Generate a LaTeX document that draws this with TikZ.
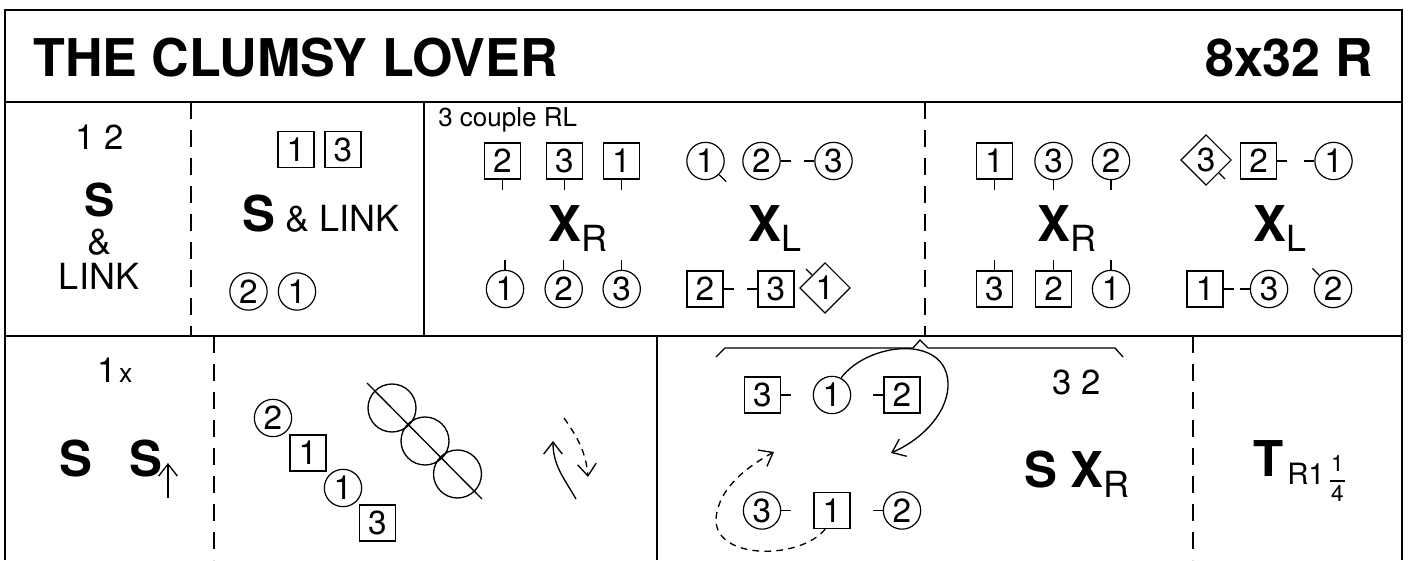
\documentclass[tikz,border=0pt]{standalone}
\usepackage{fontspec}
\setmainfont{TeX Gyre Heros}
\usetikzlibrary{shapes.geometric, arrows.meta}
\newcommand{\ttlf}{\fontsize{39}{41}\selectfont\bfseries}
\newcommand{\bigf}{\fontsize{37}{39}\selectfont\bfseries}
\newcommand{\bigSf}{\fontsize{34}{36}\selectfont\bfseries}
\newcommand{\txtf}{\fontsize{27}{29}\selectfont}
\newcommand{\numf}{\fontsize{26}{28}\selectfont}
\newcommand{\dnumf}{\fontsize{25}{27}\selectfont}
\newcommand{\smallf}{\fontsize{19.5}{21}\selectfont}
\newcommand{\subf}{\fontsize{27}{29}\selectfont\mdseries}
\newcommand{\tsubf}{\fontsize{22}{24}\selectfont}
\newcommand{\fracf}{\fontsize{17}{19}\selectfont}
\tikzset{
    frame/.style={line width=1.6pt},
    sep/.style={line width=1.2pt},
    dsep/.style={line width=1.2pt, dash pattern=on 13pt off 8pt},
    txt/.style={inner sep=0pt},
    man/.style={draw, rectangle, line width=0.9pt, minimum size=27pt, inner sep=0pt, font=\dnumf},
    lady/.style={draw, circle, line width=0.9pt, minimum size=28pt, inner sep=0pt, font=\dnumf},
    dia/.style={draw, diamond, line width=0.9pt, minimum width=38pt, minimum height=38pt, inner sep=0pt, font=\dnumf},
    ring/.style={draw, circle, line width=1pt, minimum size=36pt, inner sep=0pt},
    tail/.style={line width=0.9pt},
    arr/.style={-{Straight Barb[length=9pt, width=14pt]}, line width=1pt},
    darr/.style={arr, dash pattern=on 5pt off 4pt}
}
\begin{document}
\begin{tikzpicture}[x=0.75pt, y=0.75pt]
\useasboundingbox (0,0) rectangle (1412,560);
% frame
\draw[frame] (5,0) -- (5,550) -- (1402,550) -- (1402,0);
\draw[frame] (5,458) -- (1402,458);
\draw[frame] (5,224) -- (1402,224);
\draw[sep] (424,458) -- (424,224);
\draw[sep] (657,224) -- (657,0);
\draw[dsep] (191,458) -- (191,224);
\draw[dsep] (925,458) -- (925,224);
\draw[dsep] (214,224) -- (214,0);
\draw[dsep] (1193,224) -- (1193,0);

% title
\node[txt, anchor=base west, font=\ttlf] (title) at (33,483) {THE CLUMSY LOVER};
\node[txt, anchor=base east, font=\ttlf] (form) at (1373,483) {8x32 R};

% bars 1-8
\node[txt, anchor=base, font=\numf] (cpl12) at (100,410) {1 2};
\node[txt, anchor=base, font=\bigSf] (set1) at (100,343) {S};
\node[txt, anchor=base, font=\txtf] (amp1) at (100,305) {\&};
\node[txt, anchor=base, font=\txtf] (link1) at (99,270) {LINK};

\node[man] (m1) at (296,410.5) {1};
\node[man] (m3) at (343,410.5) {3};
\node[txt, anchor=base west, font=\txtf] (setlink) at (242,328) {{\bigf S} \& LINK};
\node[lady] (l2) at (248.5,268.5) {2};
\node[lady] (l1) at (297,268.5) {1};

% bars 9-16
\node[txt, anchor=base west, font=\smallf] (note) at (438,433) {3 couple RL};
\node[man] (a2) at (502.5,399) {2};
\node[man] (a3) at (564.5,399) {3};
\node[man] (a1) at (621.5,399) {1};
\node[lady] (b1) at (705.5,399) {1};
\node[lady] (b2) at (761.5,399) {2};
\node[lady] (b3) at (833.5,399) {3};
\draw[tail] (a2.south) -- ++(0,-10);
\draw[tail] (a3.south) -- ++(0,-10);
\draw[tail] (a1.south) -- ++(0,-10);
\draw[tail] (b1.south east) -- ++(7,-7);
\draw[tail] (b2.east) -- ++(10,0);
\draw[tail] (b3.west) -- ++(-10,0);
\node[txt, anchor=base west, font=\bigf] (xr1) at (548,318) {X\raisebox{-7pt}{\subf R}};
\node[txt, anchor=base west, font=\bigf] (xl1) at (748,318) {X\raisebox{-7pt}{\subf L}};
\node[lady] (c1) at (505,271) {1};
\node[lady] (c2) at (563.7,271) {2};
\node[lady] (c3) at (621.7,271) {3};
\node[man] (d2) at (705,271) {2};
\node[man] (d3) at (776,271) {3};
\node[dia] (d1) at (825,272) {1};
\draw[tail] (c1.north) -- ++(0,10);
\draw[tail] (c2.north) -- ++(0,10);
\draw[tail] (c3.north) -- ++(0,10);
\draw[tail] (d2.east) -- ++(10,0);
\draw[tail] (d3.west) -- ++(-10,0);
\draw[tail] (d1.north west) -- ++(-6,6);

\node[man] (e1) at (994.5,399) {1};
\node[lady] (e3) at (1053.5,399) {3};
\node[lady] (e2) at (1111,399) {2};
\node[dia] (f3) at (1206,400) {3};
\node[man] (f2) at (1258.5,399) {2};
\node[lady] (f1) at (1333.5,399) {1};
\draw[tail] (e1.south) -- ++(0,-10);
\draw[tail] (e3.south) -- ++(0,-10);
\draw[tail] (e2.south) -- ++(0,-10);
\draw[tail] (f3.south east) -- ++(6,-6);
\draw[tail] (f2.east) -- ++(10,0);
\draw[tail] (f1.west) -- ++(-10,0);
\node[txt, anchor=base west, font=\bigf] (xr2) at (1037,318) {X\raisebox{-7pt}{\subf R}};
\node[txt, anchor=base west, font=\bigf] (xl2) at (1253,318) {X\raisebox{-7pt}{\subf L}};
\node[man] (g3) at (994.5,271) {3};
\node[man] (g2) at (1053.5,271) {2};
\node[lady] (g1) at (1111,271) {1};
\node[man] (h1) at (1205,271) {1};
\node[lady] (h3) at (1269,271) {3};
\node[lady] (h2) at (1333,271) {2};
\draw[tail] (g3.north) -- ++(0,10);
\draw[tail] (g2.north) -- ++(0,10);
\draw[tail] (g1.north) -- ++(0,10);
\draw[tail] (h1.east) -- ++(10,0);
\draw[tail] (h3.west) -- ++(-10,0);
\draw[tail] (h2.north west) -- ++(-7,7);

% bars 17-24
\node[txt, anchor=base west, font=\numf] (rep) at (97,177) {1\kern2pt{\fontsize{20}{22}\selectfont x}};
\node[txt, anchor=base west, font=\bigf] (s2a) at (59,83) {S};
\node[txt, anchor=base west, font=\bigf] (s2b) at (129,83) {S};
\coordinate (upA) at (168,62);
\coordinate (upB) at (168,97);
\draw[arr] (upA) -- (upB);

\node[lady] (p2) at (273,142) {2};
\node[man] (q1) at (308,107) {1};
\node[lady] (p1) at (343,72) {1};
\node[man] (q3) at (377.5,37) {3};
\node[ring] (r1) at (392,152) {};
\node[ring] (r2) at (425,119) {};
\node[ring] (r3) at (457.5,86) {};
\coordinate (lnA) at (367,177);
\coordinate (lnB) at (482,61);
\draw[line width=1pt] (lnA) -- (lnB);
\coordinate (turnA) at (576,61);
\coordinate (turnB) at (553,119);
\draw[arr] (turnA) to[out=120, in=-90] (turnB);
\coordinate (backA) at (564,142);
\coordinate (backB) at (588,83);
\draw[darr] (backA) to[out=-55, in=95] (backB);

% bars 25-32
\draw[line width=1pt] (716,203) -- (725,212) -- (913,212) -- (920,220) -- (928,212) -- (1115,212) -- (1123,203);
\node[man] (k3) at (762.5,165) {3};
\node[lady] (k1) at (832,165) {1};
\node[man] (k2) at (902,165) {2};
\draw[tail] (k3.east) -- ++(10,0);
\draw[tail] (k2.west) -- ++(-10,0);
\node[lady] (j3) at (762,49.5) {3};
\node[man] (j1) at (832,49.5) {1};
\node[lady] (j2) at (902,49.5) {2};
\draw[tail] (j3.east) -- ++(10,0);
\draw[tail] (j2.west) -- ++(-10,0);
\coordinate (loopB) at (891,107);
\draw[arr] (k1.62) .. controls (868,218) and (946,226) .. (948,177) .. controls (949,150) and (925,122) .. (loopB);
\coordinate (loopD) at (774,108);
\draw[darr] (j1.-110) .. controls (800,0) and (716,0) .. (716,40) .. controls (717,72) and (750,95) .. (loopD);
\node[txt, anchor=base, font=\numf] (cpl32) at (1077,165) {3 2};
\node[txt, anchor=base west, font=\bigf] (sxr) at (1024,72) {S X\raisebox{-7pt}{\subf R}};

\node[txt, anchor=base west, font=\bigf] (turn) at (1253,83) {T};
\node[txt, anchor=base west, font=\tsubf] (turnsub) at (1287,75) {R1};
\node[txt, anchor=base, font=\fracf] (fnum) at (1337.5,88) {1};
\node[txt, anchor=base, font=\fracf] (fden) at (1337.5,58) {4};
\draw[line width=0.8pt] ([xshift=-1pt]fnum.south west |- 0,79) -- ([xshift=1pt]fnum.south east |- 0,79);
\end{tikzpicture}
\end{document}
